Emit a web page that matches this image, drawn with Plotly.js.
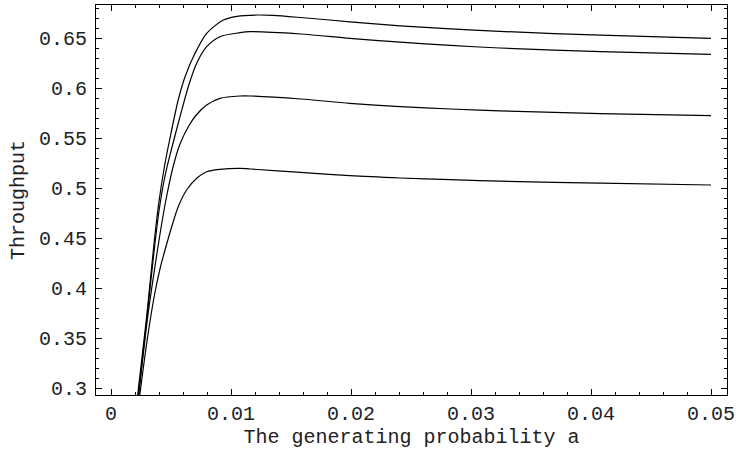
<!DOCTYPE html>
<html>
<head>
<meta charset="utf-8">
<script src="https://cdn.plot.ly/plotly-3.0.1.min.js"></script>
<style>html,body{margin:0;padding:0;background:#fff;}</style>
</head>
<body>
<div id="chart" style="width:738px;height:451px;"></div>
<script>
// Curve data (x = generating probability a, y = throughput)
var x1 = [0.0021, 0.00222, 0.00297, 0.00353, 0.00394, 0.00446, 0.0049, 0.0056, 0.00617, 0.0070, 0.00797, 0.00936, 0.0105, 0.0122, 0.0135, 0.0158, 0.0199, 0.0241, 0.0283, 0.0324, 0.0408, 0.0500];
var y1 = [0.280, 0.293, 0.3713, 0.438, 0.4813, 0.522, 0.549, 0.588, 0.6113, 0.6347, 0.6547, 0.668, 0.6717, 0.673, 0.6726, 0.6705, 0.6662, 0.6622, 0.6591, 0.6566, 0.6528, 0.6497];

var x2 = [0.00218, 0.0023, 0.0030, 0.0036, 0.0040, 0.0045, 0.0050, 0.00575, 0.00644, 0.00714, 0.00797, 0.00908, 0.01075, 0.0116, 0.0158, 0.0199, 0.0241, 0.0283, 0.0324, 0.0408, 0.0500];
var y2 = [0.280, 0.293, 0.371, 0.438, 0.477, 0.512, 0.537, 0.5713, 0.6013, 0.6247, 0.6413, 0.6513, 0.6553, 0.6563, 0.6540, 0.6497, 0.6458, 0.6426, 0.6400, 0.6364, 0.6337];

var x3 = [0.00218, 0.0023, 0.0031, 0.0039, 0.00422, 0.00464, 0.00519, 0.00575, 0.0065, 0.00714, 0.00797, 0.00908, 0.01075, 0.0116, 0.0158, 0.0199, 0.0241, 0.0283, 0.0324, 0.0408, 0.0500];
var y3 = [0.280, 0.293, 0.375, 0.440, 0.464, 0.492, 0.522, 0.544, 0.5625, 0.5735, 0.5830, 0.5897, 0.5920, 0.5920, 0.5890, 0.5847, 0.5813, 0.5790, 0.5772, 0.5744, 0.5723];

var x4 = [0.00227, 0.0024, 0.0031, 0.00367, 0.0041, 0.0045, 0.00506, 0.0056, 0.0063, 0.00714, 0.00797, 0.00908, 0.01075, 0.0116, 0.0158, 0.0199, 0.0241, 0.0283, 0.0324, 0.0408, 0.0500];
var y4 = [0.280, 0.293, 0.355, 0.396, 0.420, 0.438, 0.4613, 0.4813, 0.4980, 0.5097, 0.5163, 0.5187, 0.5197, 0.5190, 0.5157, 0.5123, 0.5100, 0.5083, 0.5068, 0.5048, 0.5030];

var xTitle = "The generating probability a";
var yTitle = "Throughput";

function curve(x, y) {
  return {x: x, y: y, type: 'scatter', mode: 'lines',
          line: {color: '#000', width: 1.2, shape: 'spline', smoothing: 0.8},
          hoverinfo: 'skip', showlegend: false};
}

var fontFam = '"Liberation Mono", "DejaVu Sans Mono", monospace';

var data = [curve(x1, y1), curve(x2, y2), curve(x3, y3), curve(x4, y4)];

var layout = {
  width: 738, height: 451,
  margin: {l: 96, r: 11, t: 5, b: 56},
  paper_bgcolor: '#fff', plot_bgcolor: '#fff',
  font: {family: fontFam, size: 20, color: '#000'},
  showlegend: false,
  xaxis: {
    range: [-0.00125, 0.05133], dtick: 0.01, tick0: 0,
    showgrid: false, zeroline: false,
    showline: true, linecolor: '#000', linewidth: 1, mirror: 'allticks',
    ticks: 'inside', ticklen: 6, tickwidth: 1, tickcolor: '#000',
    minor: {dtick: 0.002, tick0: 0, ticks: 'inside', ticklen: 3, tickwidth: 1, tickcolor: '#000', showgrid: false},
    tickfont: {family: fontFam, size: 20, color: '#222'},
    ticklabelstandoff: 0,
    title: {text: xTitle, font: {family: fontFam, size: 20, color: '#222'}, standoff: 2}
  },
  yaxis: {
    range: [0.293, 0.683], dtick: 0.05, tick0: 0,
    showgrid: false, zeroline: false,
    showline: true, linecolor: '#000', linewidth: 1, mirror: 'allticks',
    ticks: 'inside', ticklen: 6, tickwidth: 1, tickcolor: '#000',
    minor: {dtick: 0.01, tick0: 0, ticks: 'inside', ticklen: 3, tickwidth: 1, tickcolor: '#000', showgrid: false},
    tickfont: {family: fontFam, size: 20, color: '#222'},
    ticklabelstandoff: 4,
    title: {text: yTitle, font: {family: fontFam, size: 20, color: '#222'}, standoff: 8}
  }
};

Plotly.newPlot('chart', data, layout, {staticPlot: true, displayModeBar: false});
</script>
</body>
</html>
